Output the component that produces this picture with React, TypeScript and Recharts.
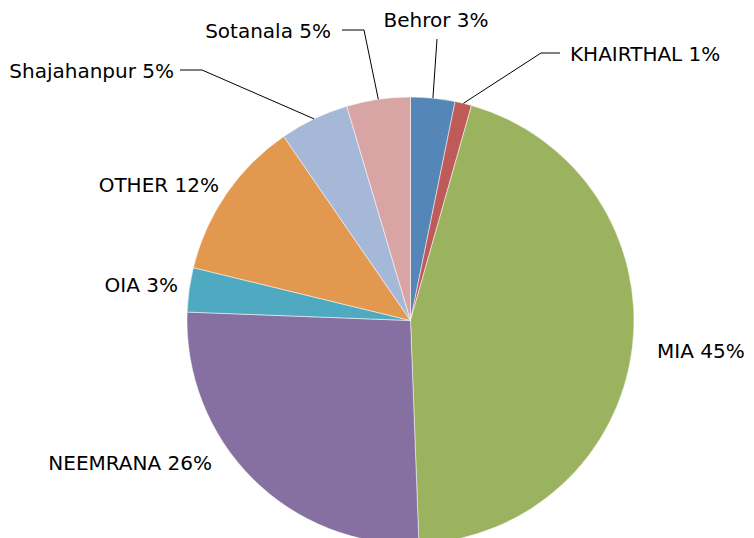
import React from "react";
import { PieChart, Pie, Cell } from "recharts";

const categories = ["Behror", "KHAIRTHAL", "MIA", "NEEMRANA", "OIA", "OTHER", "Shajahanpur", "Sotanala"];
const shares = [3.2, 1.2, 45.0, 26.2, 3.2, 11.6, 5.0, 4.6];
const colors = ["#5586B8", "#BE5B58", "#9BB25F", "#8670A1", "#4FAAC1", "#E2984E", "#A6B8D7", "#D9A5A4"];

// label layout, relative to the pie centre
type Layout = { tx: number; ty: number; anchor: "start" | "middle" | "end"; leader?: [number, number][] };
const labelLayout: Layout[] = [
  { tx: 25.5, ty: -300.5, anchor: "middle", leader: [[26.5, -281.5]] },
  { tx: 159.5, ty: -266.5, anchor: "start", leader: [[130.5, -267.5], [149.5, -267.5]] },
  { tx: 246.5, ty: 30.5, anchor: "start" },
  { tx: -198.5, ty: 142.5, anchor: "end" },
  { tx: -232.5, ty: -35.5, anchor: "end" },
  { tx: -191.5, ty: -135.5, anchor: "end" },
  { tx: -236.5, ty: -249.5, anchor: "end", leader: [[-208.5, -250.5], [-230.5, -250.5]] },
  { tx: -79.5, ty: -289.5, anchor: "end", leader: [[-46.5, -290.5], [-68.5, -290.5]] },
];

const data = categories.map((name, i) => ({ name, value: shares[i] }));
const total = shares.reduce((a, b) => a + b, 0);

const RAD = Math.PI / 180;

const renderLabel = (props: any) => {
  const { cx, cy, midAngle, outerRadius, index, name, value } = props;
  const lay = labelLayout[index];
  const pct = Math.round((value / total) * 100);
  const ex = cx + outerRadius * Math.cos(-midAngle * RAD);
  const ey = cy + outerRadius * Math.sin(-midAngle * RAD);
  let path = "";
  if (lay.leader) {
    path = `M${ex},${ey}` + lay.leader.map(([x, y]) => ` L${cx + x},${cy + y}`).join("");
  }
  return (
    <g key={`lbl-${index}`}>
      {path && <path d={path} stroke="#000" strokeWidth={1} fill="none" />}
      <text
        x={cx + lay.tx}
        y={cy + lay.ty}
        textAnchor={lay.anchor}
        dominantBaseline="central"
        fill="#000"
        fontSize={20}
        fontFamily="'DejaVu Sans', sans-serif"
      >
        {`${name} ${pct}%`}
      </text>
    </g>
  );
};

export default function App() {
  return (
    <div style={{ position: "absolute", left: 0, top: 0, background: "#fff" }}>
      <PieChart width={754} height={538} margin={{ top: 0, right: 0, bottom: 0, left: 0 }}>
        <Pie
          data={data}
          dataKey="value"
          nameKey="name"
          cx={410.5}
          cy={320.5}
          outerRadius={223.5}
          innerRadius={0}
          startAngle={90}
          endAngle={-270}
          stroke="#ffffff"
          strokeWidth={0.5}
          label={renderLabel}
          labelLine={false}
          isAnimationActive={false}
        >
          {data.map((d, i) => (
            <Cell key={d.name} fill={colors[i]} />
          ))}
        </Pie>
      </PieChart>
    </div>
  );
}
